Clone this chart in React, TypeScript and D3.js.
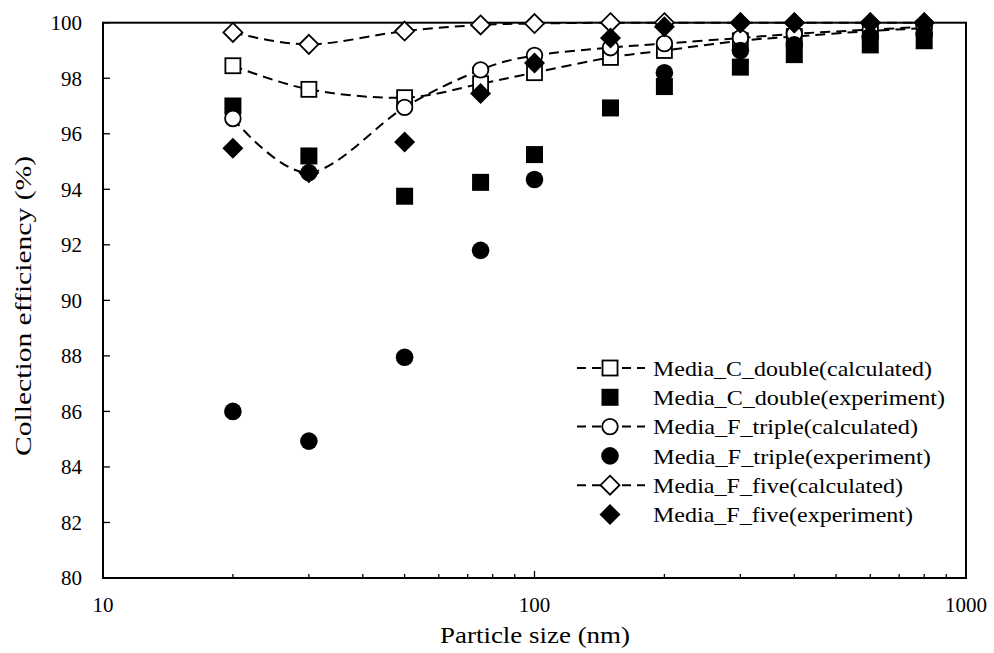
import React from "react";
import * as d3 from "d3";

const sizes = [20, 30, 50, 75, 100, 150, 200, 300, 400, 600, 800];
const cDoubleCalc = [98.45, 97.6, 97.3, 97.8, 98.2, 98.75, 99.0, 99.35, 99.5, 99.7, 99.8];
const cDoubleExp = [97.0, 95.2, 93.75, 94.25, 95.25, 96.93, 97.7, 98.4, 98.85, 99.2, 99.35];
const fTripleCalc = [96.55, 94.6, 96.95, 98.3, 98.82, 99.1, 99.25, 99.45, 99.6, 99.75, 99.85];
const fTripleExp: (number | null)[] = [86.0, 84.93, 87.95, 91.8, 94.35, null, 98.2, 99.0, 99.2, 99.5, 99.6];
const fFiveCalc = [99.65, 99.22, 99.7, 99.92, 99.97, 100, 100, 100, 100, 100, 100];
const fFiveExp = [95.48, 94.6, 95.7, 97.45, 98.55, 99.45, 99.85, 100, 100, 100, 100];

const yTicks = [80, 82, 84, 86, 88, 90, 92, 94, 96, 98, 100];
const xMajor = [10, 100, 1000];
const xMinor = [20, 30, 40, 50, 60, 70, 80, 90, 200, 300, 400, 500, 600, 700, 800, 900];

const legendLabels = [
  "Media_C_double(calculated)",
  "Media_C_double(experiment)",
  "Media_F_triple(calculated)",
  "Media_F_triple(experiment)",
  "Media_F_five(calculated)",
  "Media_F_five(experiment)",
];
const legendWidths = [279, 292, 265, 278, 250, 260];

type Shape = "square" | "circle" | "diamond";

function Marker({ x, y, shape, filled }: { x: number; y: number; shape: Shape; filled: boolean }) {
  const fill = filled ? "#000" : "#fff";
  const sw = filled ? 0 : 1.8;
  if (shape === "square") {
    const s = filled ? 17 : 15;
    return <rect x={x - s / 2} y={y - s / 2} width={s} height={s} fill={fill} stroke="#000" strokeWidth={sw} />;
  }
  if (shape === "circle") {
    const r = filled ? 8.8 : 7.8;
    return <circle cx={x} cy={y} r={r} fill={fill} stroke="#000" strokeWidth={sw} />;
  }
  const h = filled ? 10.5 : 9.5;
  return (
    <path
      d={`M${x},${y - h}L${x + h},${y}L${x},${y + h}L${x - h},${y}Z`}
      fill={fill}
      stroke="#000"
      strokeWidth={sw}
    />
  );
}

const FONT = "Liberation Serif, Times New Roman, Times, DejaVu Serif, serif";

export default function App() {
  const W = 994;
  const H = 653;
  const left = 103;
  const right = 966;
  const top = 22.7;
  const bottom = 578;
  const x = d3.scaleLog().domain([10, 1000]).range([left, right]);
  const y = d3.scaleLinear().domain([80, 100]).range([bottom, top]);

  const line = d3
    .line<number>()
    .x((_, i) => x(sizes[i]))
    .y((v) => y(v))
    .curve(d3.curveCardinal.tension(0));

  const series: { vals: (number | null)[]; shape: Shape; filled: boolean; line: boolean }[] = [
    { vals: cDoubleCalc, shape: "square", filled: false, line: true },
    { vals: cDoubleExp, shape: "square", filled: true, line: false },
    { vals: fTripleCalc, shape: "circle", filled: false, line: true },
    { vals: fTripleExp, shape: "circle", filled: true, line: false },
    { vals: fFiveCalc, shape: "diamond", filled: false, line: true },
    { vals: fFiveExp, shape: "diamond", filled: true, line: false },
  ];

  const legX = 577;
  const legY0 = 368;
  const legDy = 29.3;

  return (
    <svg
      width={W}
      height={H}
      style={{ position: "absolute", left: 0, top: 0, background: "#fff", fontFamily: FONT }}
    >
      <rect x={0} y={0} width={W} height={H} fill="#fff" />
      {yTicks.map((t) => (
        <g key={"y" + t}>
          <line x1={left} x2={left + 7} y1={y(t)} y2={y(t)} stroke="#000" strokeWidth={1.3} />
          <text x={82} y={y(t)} dy="0.35em" textAnchor="end" style={{ fontFamily: FONT }} fontSize={21}>
            {t}
          </text>
        </g>
      ))}
      {xMinor.map((t) => (
        <line key={"xm" + t} x1={x(t)} x2={x(t)} y1={bottom} y2={bottom - 4} stroke="#000" strokeWidth={1.3} />
      ))}
      {xMajor.map((t) => (
        <g key={"xM" + t}>
          <line x1={x(t)} x2={x(t)} y1={bottom} y2={bottom - 7} stroke="#000" strokeWidth={1.3} />
          <text x={x(t)} y={612} textAnchor="middle" style={{ fontFamily: FONT }} fontSize={21}>
            {t}
          </text>
        </g>
      ))}
      <rect x={left} y={top} width={right - left} height={bottom - top} fill="none" stroke="#000" strokeWidth={2} />
      {series
        .filter((s) => s.line)
        .map((s, i) => (
          <path
            key={"l" + i}
            d={line(s.vals as number[]) || ""}
            fill="none"
            stroke="#000"
            strokeWidth={2}
            strokeDasharray="10,6"
          />
        ))}
      {series.map((s, si) =>
        s.vals.map((v, i) =>
          v == null ? null : <Marker key={si + "-" + i} x={x(sizes[i])} y={y(v)} shape={s.shape} filled={s.filled} />
        )
      )}
      {series.map((s, i) => {
        const ly = legY0 + i * legDy;
        return (
          <g key={"leg" + i}>
            {s.line && (
              <line x1={legX} x2={legX + 68} y1={ly} y2={ly} stroke="#000" strokeWidth={2} strokeDasharray="9,6" />
            )}
            <Marker x={legX + 33} y={ly} shape={s.shape} filled={s.filled} />
            <text
              x={653}
              y={ly}
              dy="0.35em"
              style={{ fontFamily: FONT }}
              fontSize={22}
              textLength={legendWidths[i]}
              lengthAdjust="spacingAndGlyphs"
            >
              {legendLabels[i]}
            </text>
          </g>
        );
      })}
      <text
        x={535}
        y={643}
        textAnchor="middle"
        style={{ fontFamily: FONT }}
        fontSize={23}
        textLength={190}
        lengthAdjust="spacingAndGlyphs"
      >
        Particle size (nm)
      </text>
      <text
        transform={`translate(31,306) rotate(-90)`}
        textAnchor="middle"
        style={{ fontFamily: FONT }}
        fontSize={23}
        textLength={300}
        lengthAdjust="spacingAndGlyphs"
      >
        Collection efficiency (%)
      </text>
    </svg>
  );
}
